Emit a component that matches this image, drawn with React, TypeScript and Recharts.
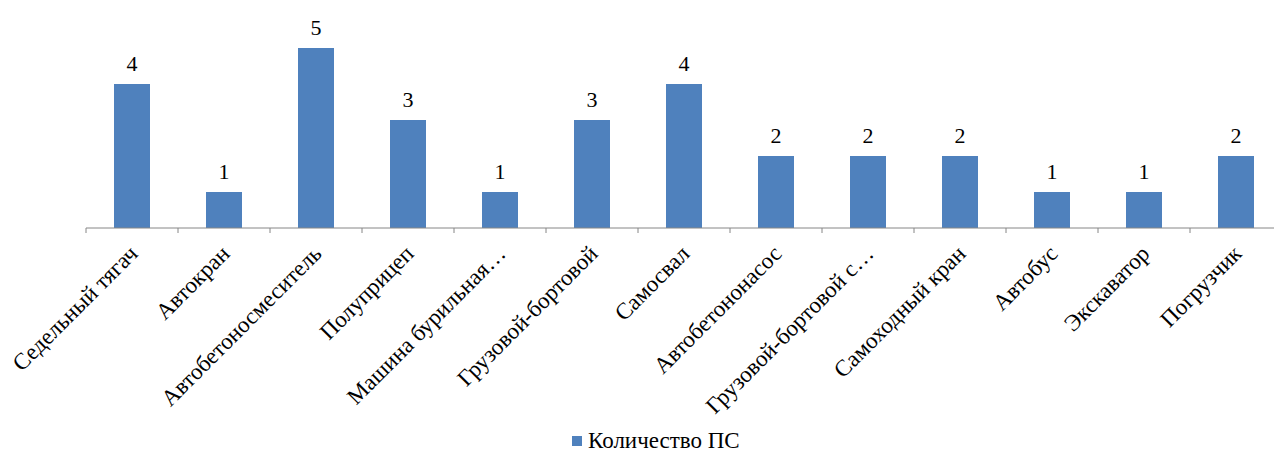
import React from 'react';
import { BarChart, Bar, XAxis, YAxis, LabelList, Legend } from 'recharts';

const categories = [
  'Седельный тягач',
  'Автокран',
  'Автобетоносмеситель',
  'Полуприцеп',
  'Машина бурильная…',
  'Грузовой-бортовой',
  'Самосвал',
  'Автобетононасос',
  'Грузовой-бортовой с…',
  'Самоходный кран',
  'Автобус',
  'Экскаватор',
  'Погрузчик',
];
const counts = [4, 1, 5, 3, 1, 3, 4, 2, 2, 2, 1, 1, 2];
const seriesName = 'Количество ПС';

const data = categories.map((name, i) => ({ name, value: counts[i] }));

const FONT = '"Liberation Serif", "Times New Roman", serif';
const BAR_COLOR = '#4F81BD';
const CHART_W = 1282;
const LEFT = 86;
const BAND = (CHART_W - LEFT) / categories.length;

function CategoryTick(props: any) {
  const { x, y, payload, index } = props;
  const axisY = y - 8;
  const tx = x + 7;
  const ty = y + 19;
  return (
    <g>
      <line x1={x - BAND / 2} y1={axisY} x2={x - BAND / 2} y2={axisY + 5} stroke="#868686" />
      {index === categories.length - 1 && (
        <line x1={x + BAND / 2} y1={axisY} x2={x + BAND / 2} y2={axisY + 5} stroke="#868686" />
      )}
      <text
        x={tx}
        y={ty}
        textAnchor="end"
        transform={`rotate(-45, ${tx}, ${ty})`}
        fontFamily={FONT}
        fontSize={23}
        fill="#000"
      >
        {payload.value}
      </text>
    </g>
  );
}

function LegendContent() {
  return (
    <div style={{ display: 'flex', alignItems: 'center', marginLeft: 486, fontFamily: FONT, fontSize: 23, color: '#000', height: 22, lineHeight: '22px' }}>
      <span style={{ display: 'inline-block', width: 10, height: 10, background: BAR_COLOR, marginRight: 6 }} />
      <span>{seriesName}</span>
    </div>
  );
}

export default function App() {
  return (
    <div style={{ position: 'absolute', left: 0, top: 0, width: 1274, height: 452, overflow: 'hidden', background: '#fff' }}>
      <BarChart
        width={CHART_W}
        height={452}
        data={data}
        margin={{ top: 12, right: 0, left: LEFT, bottom: 0 }}
        barCategoryGap={0}
      >
        <YAxis hide domain={[0, 6]} />
        <XAxis
          dataKey="name"
          interval={0}
          height={202}
          axisLine={{ stroke: '#868686' }}
          tickLine={false}
          tick={<CategoryTick />}
        />
        <Legend
          verticalAlign="bottom"
          align="left"
          height={22}
          content={() => <LegendContent />}
        />
        <Bar dataKey="value" name={seriesName} fill={BAR_COLOR} barSize={36} isAnimationActive={false}>
          <LabelList dataKey="value" position="top" offset={13} fontFamily={FONT} fontSize={22} fill="#000" />
        </Bar>
      </BarChart>
    </div>
  );
}
